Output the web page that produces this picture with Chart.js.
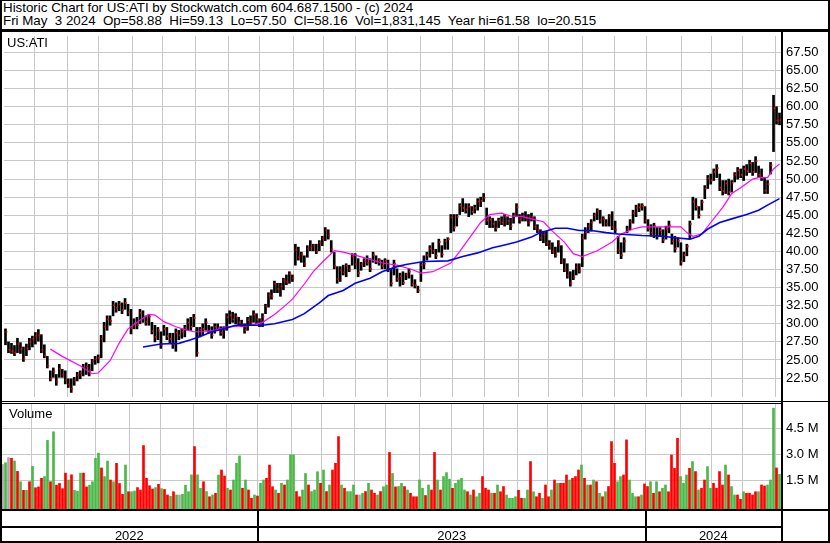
<!DOCTYPE html>
<html>
<head>
<meta charset="utf-8">
<script src="https://cdn.jsdelivr.net/npm/chart.js@4.4.1/dist/chart.umd.min.js"></script>
<style>
html,body{margin:0;padding:0;background:#fff;}
#wrap{position:relative;width:830px;height:543px;overflow:hidden;background:#fff;font-family:"Liberation Sans",Arial,sans-serif;color:#000;}
.hdr{position:absolute;left:3px;font-size:13.33px;line-height:13px;white-space:pre;}
.lbl{position:absolute;font-size:13px;line-height:13px;white-space:pre;}
.ln{position:absolute;background:#000;}
canvas{position:absolute;left:0;}
</style>
</head>
<body>
<div id="wrap">
  <div class="hdr" style="top:1px">Historic Chart for US:ATI by Stockwatch.com 604.687.1500 - (c) 2024</div>
  <div class="hdr" style="top:14px">Fri May  3 2024  Op=58.88  Hi=59.13  Lo=57.50  Cl=58.16  Vol=1,831,145  Year hi=61.58  lo=20.515</div>
  <canvas id="cp" width="830" height="369" style="top:32px"></canvas>
  <canvas id="cv" width="830" height="105" style="top:404px"></canvas>
  <div class="lbl" style="left:7px;top:36px">US:ATI</div>
  <div class="lbl" style="left:9px;top:407px">Volume</div>
  <!-- frame lines -->
  <div class="ln" style="left:0;top:0;width:830px;height:1px"></div>
  <div class="ln" style="left:0;top:0;width:2px;height:543px"></div>
  <div class="ln" style="left:828px;top:0;width:2px;height:543px"></div>
  <div class="ln" style="left:0;top:29px;width:830px;height:3px"></div>
  <div class="ln" style="left:781px;top:32px;width:2px;height:510px"></div>
  <div class="ln" style="left:0;top:401px;width:830px;height:1px"></div>
  <div class="ln" style="left:0;top:403px;width:783px;height:1px"></div>
  <div class="ln" style="left:0;top:509px;width:830px;height:2px"></div>
  <div class="ln" style="left:0;top:526px;width:783px;height:2px"></div>
  <div class="ln" style="left:0;top:541px;width:830px;height:2px"></div>
  <div id="years"></div>
</div>
<script>
// ---- data (one entry per bar) ----
const HIGH = [
29.3,27.5,27.3,27.0,28.0,27.4,26.8,27.2,28.0,28.3,
28.8,29.2,28.5,27.1,25.5,23.5,23.9,23.0,24.4,23.7,
23.5,22.4,22.4,22.6,23.3,23.5,24.4,24.6,24.4,25.1,
25.5,25.7,28.4,30.2,31.1,31.1,33.1,32.9,33.1,32.9,
33.5,32.7,32.0,30.7,30.9,32.0,31.8,31.1,31.3,30.2,
29.8,29.5,28.9,29.8,29.5,28.7,28.7,29.3,29.1,29.3,
29.8,30.7,30.9,31.3,29.5,29.5,30.0,30.7,29.8,29.6,
30.0,30.0,29.6,29.6,31.4,31.8,31.6,31.4,30.9,30.5,
30.0,30.9,31.1,31.8,31.4,30.7,31.4,32.7,34.3,34.7,
35.9,35.6,35.6,36.3,36.75,37.2,36.75,41.0,40.6,39.9,
39.4,40.8,41.5,41.0,41.0,41.5,42.1,43.3,43.0,41.5,
39.9,37.9,37.9,38.1,38.3,38.1,39.7,39.7,39.0,38.5,
39.0,39.4,39.0,39.9,39.4,39.0,38.8,39.0,38.8,37.6,
38.8,37.6,37.0,37.2,37.0,37.6,36.75,36.1,35.2,38.5,
39.4,39.9,40.8,41.2,40.3,41.7,40.8,41.7,41.9,45.1,
45.1,45.1,46.6,47.3,46.6,46.6,46.2,46.4,47.3,47.5,
48.0,46.0,44.8,44.6,44.2,44.6,44.8,45.1,44.8,44.6,
45.3,46.6,45.1,45.3,45.5,45.1,45.3,44.8,43.7,43.0,
42.8,42.8,41.5,41.2,40.6,41.5,40.8,39.0,38.3,37.2,
37.4,38.3,38.3,42.4,43.3,43.9,44.4,45.3,45.9,45.7,
44.8,44.4,45.1,45.5,44.2,42.1,41.2,41.9,43.5,44.4,
45.7,46.4,46.6,46.6,46.2,44.4,43.7,43.9,43.3,43.3,
43.0,43.5,44.2,42.4,42.1,41.9,41.2,39.9,41.0,44.2,
47.5,47.3,46.2,47.1,49.1,50.5,50.7,51.4,52.0,50.7,
49.8,49.8,50.0,49.8,50.9,51.6,51.4,51.8,52.0,52.6,
52.3,53.1,51.8,51.4,50.2,49.8,52.3,61.58,60.0,59.13];

const LOW = [
27.1,26.0,25.9,25.6,26.0,25.9,24.8,25.6,26.4,26.8,
27.2,27.6,26.0,25.3,23.9,22.1,22.6,21.5,22.6,22.6,
21.7,21.2,20.515,21.5,22.1,22.4,22.8,23.0,22.8,23.5,
24.4,24.6,25.3,27.5,29.1,29.8,31.1,31.6,31.8,31.4,
32.0,31.1,28.6,29.3,29.3,30.0,30.2,29.8,29.8,28.6,
27.5,27.8,26.6,28.4,27.8,27.3,26.6,26.2,27.8,28.0,
28.2,29.1,29.1,29.6,25.5,28.2,28.4,29.1,28.7,28.0,
28.7,29.1,28.4,28.0,29.1,30.0,30.2,30.0,29.8,29.6,
28.7,29.1,29.8,30.2,30.0,29.6,29.6,31.4,32.3,33.4,
34.3,34.3,33.8,34.7,35.4,35.6,35.85,38.1,38.8,38.5,
37.9,39.2,40.1,40.1,39.7,40.1,40.8,41.5,41.7,39.9,
37.6,35.6,35.85,36.75,36.5,37.2,38.1,37.6,36.5,37.4,
37.9,38.1,37.2,38.5,38.3,38.1,37.6,37.6,37.2,35.2,
36.75,35.85,35.2,35.4,36.1,36.3,35.2,34.95,34.3,35.85,
37.6,38.8,39.2,39.7,39.0,39.9,39.2,40.3,40.3,42.6,
42.8,43.5,45.1,45.5,45.3,44.8,45.1,45.3,45.7,46.2,
46.9,43.7,43.3,43.3,42.8,43.3,43.7,43.5,43.7,43.0,
43.9,44.8,43.9,44.2,44.2,43.5,44.2,43.0,42.6,41.5,
41.2,40.8,40.3,39.7,39.2,39.9,38.3,37.2,36.3,35.2,
36.1,36.75,37.0,37.9,41.7,42.6,42.8,44.2,44.4,43.9,
43.5,43.5,43.5,43.0,42.6,39.7,39.0,39.9,42.6,43.0,
43.9,44.8,45.5,45.7,43.9,42.8,42.1,41.9,41.7,42.1,
41.2,41.7,42.6,41.0,39.9,40.6,38.1,38.6,39.4,41.7,
44.4,45.7,44.6,45.7,47.3,48.7,49.3,49.8,50.2,48.4,
47.8,48.0,47.8,48.2,49.6,50.0,50.2,49.8,50.5,50.9,
50.5,50.9,50.2,49.8,48.0,48.0,50.7,53.8,57.6,57.50];

const CLOSE = [
28.9,26.4,26.2,26.0,27.2,26.5,25.2,26.6,27.5,27.9,
28.3,28.4,26.4,25.6,24.2,22.4,23.4,22.0,23.8,23.0,
22.2,21.6,21.0,22.2,22.9,23.2,23.9,24.1,23.6,24.8,
25.1,25.3,27.9,29.6,30.6,30.4,32.6,32.2,32.7,31.9,
32.9,31.6,29.4,30.1,29.8,31.5,30.8,30.3,31.0,29.0,
28.2,29.1,27.1,29.3,28.3,27.9,27.2,28.8,28.4,28.9,
29.5,30.2,29.6,30.8,26.0,29.2,29.3,30.2,29.0,28.4,
29.6,29.4,28.8,29.2,30.9,31.2,30.6,31.0,30.2,29.9,
29.1,30.5,30.1,31.3,30.6,29.9,31.0,32.4,33.9,33.8,
35.5,34.8,35.2,36.0,35.8,36.9,36.3,40.2,39.2,39.6,
38.3,40.4,40.6,40.8,40.0,41.2,41.8,42.9,42.2,40.3,
38.0,36.2,37.4,37.1,38.0,37.5,39.3,38.2,37.0,38.2,
38.7,38.4,37.6,39.5,38.6,38.8,38.0,38.7,37.5,35.6,
38.3,36.2,36.6,35.7,36.8,37.2,35.5,35.3,34.6,38.1,
38.3,39.5,40.4,40.1,39.4,41.3,39.6,41.4,41.7,44.7,
43.3,44.8,46.3,46.0,45.8,46.2,45.5,46.0,46.9,47.0,
47.4,44.3,44.4,43.8,43.2,44.3,44.0,44.8,44.2,43.5,
45.0,46.1,44.4,44.9,44.6,44.0,44.8,43.4,42.9,41.9,
42.3,41.2,40.7,40.0,39.5,41.1,38.6,37.5,36.7,35.6,
36.4,37.8,37.3,41.9,42.6,43.5,44.0,45.0,45.6,44.3,
44.5,43.8,44.8,43.4,43.0,40.1,39.5,41.4,43.1,44.1,
45.3,46.0,46.1,46.3,44.3,43.2,42.6,43.5,42.1,42.9,
41.6,43.1,43.6,41.4,40.4,41.5,38.6,39.5,40.7,43.8,
46.9,46.2,45.0,46.8,48.7,50.1,49.8,51.0,51.5,48.8,
48.3,49.4,48.2,49.5,50.6,51.2,50.6,51.4,51.1,52.2,
51.0,52.5,50.6,50.2,48.4,49.3,51.9,59.8,58.1,58.16];

// volume in millions of shares
const VOLUME = [
2.4,2.5,2.8,2.76,2.6,2.0,1.4,0.9,0.9,1.4,
2.3,1.05,1.1,1.6,1.7,3.8,1.4,4.3,1.2,1.3,
1.0,1.9,1.5,1.8,0.9,0.85,1.9,1.9,1.1,1.2,
1.4,2.76,3.06,2.2,1.7,2.6,1.5,1.4,2.47,1.3,
0.67,2.37,0.82,0.82,0.86,1.06,0.92,3.5,1.6,1.17,
0.98,1.06,1.25,1.0,0.95,0.63,0.55,0.82,0.63,0.63,
0.67,1.2,0.82,1.8,3.44,1.8,1.02,1.4,0.83,0.53,
0.63,0.73,1.79,2.08,1.73,1.02,0.92,1.5,2.47,2.9,
1.02,1.5,0.92,0.44,0.63,0.57,1.31,1.5,1.6,2.37,
1.11,0.92,0.73,1.31,1.21,1.5,2.96,2.96,0.83,0.53,
0.92,1.88,1.21,0.83,0.92,1.98,1.31,2.08,0.83,1.21,
2.08,2.47,4.02,1.21,1.02,0.83,0.83,1.21,0.63,0.63,
0.73,0.83,1.31,0.92,0.73,0.63,0.83,1.11,1.21,3.1,
1.88,1.1,1.12,1.31,1.12,0.92,0.73,0.53,0.53,1.5,
1.02,0.6,1.21,0.92,3.1,1.5,0.92,1.7,1.93,1.54,
1.02,1.31,1.5,1.6,0.92,0.82,0.63,0.92,0.53,0.73,
1.7,1.02,0.92,0.73,0.73,1.21,0.82,1.12,0.63,0.44,
0.44,0.53,0.9,0.44,0.44,0.92,2.57,0.82,0.53,0.73,
0.44,1.21,0.53,0.92,1.5,1.31,1.31,1.31,1.79,1.5,
1.6,1.7,2.08,2.37,1.6,1.21,1.21,1.5,1.4,0.73,
0.53,0.82,1.12,3.73,2.47,1.4,1.7,1.79,3.83,1.5,
0.73,0.53,0.53,0.63,1.27,1.12,1.4,0.73,1.4,0.82,
1.02,1.21,0.82,2.95,2.18,3.92,1.7,1.31,1.79,2.18,
2.57,1.99,0.92,1.02,1.5,2.28,1.02,1.31,1.02,1.99,
1.21,2.37,1.79,1.12,0.63,0.63,0.38,0.82,0.73,0.73,
0.63,0.82,0.82,1.21,1.15,1.21,1.5,5.67,2.2,1.83];

// g = up day, r = down day, n = unchanged
const VOL_DIR = (
"ngnrgrgrgr"+"grrrggrgrr"+"rrgrgggrrg"+"gggrggrgrr"+"rgrggrrrrr"+
"rgrgrrgrgn"+"ggggrggrgr"+"grgrrgrggg"+"rgrrgrggrr"+"rgrgrgggrr"+
"ggrgggrgrg"+"rrrgrgggrn"+"grgrrgrggr"+"grggrgrrrg"+"grgrrgrggg"+
"rggggrgrgg"+"rrrgrgrrgg"+"ggrrggrgrr"+"grrgrgrrrg"+"rrrgrgrgrg"+
"rgrrrggrrg"+"ggrgrrgrgr"+"ggrrrrgggr"+"grgrrggrrr"+"rgrggrrgrr"+
"rrgrrgggrg").split('');

// moving averages: [bar index, value]
const MA_SHORT = [[15,26.5],[19,25.5],[25,24.2],[29,23.1],[31,23.2],[35,24.9],[38,27.3],[41,29.3],[45,30.5],[48,31.3],[50,31.2],[53,30.3],[57,29.6],[60,29.2],[63,28.9],[67,28.9],[71,29.2],[75,29.6],[81,29.7],[86,30.2],[90,31.3],[93,32.3],[96,33.4],[100,35.5],[103,37.2],[106,38.5],[110,40.1],[113,39.9],[117,39.5],[122,38.9],[126,38.4],[131,38.1],[136,37.5],[139,37.0],[143,37.2],[149,38.4],[152,40.0],[156,42.3],[159,44.0],[162,45.1],[166,45.3],[169,44.9],[173,44.8],[177,44.4],[180,44.1],[183,42.8],[187,41.3],[190,39.7],[193,39.3],[198,40.1],[203,41.3],[206,42.4],[210,43.1],[213,43.4],[226,43.4],[228,42.6],[230,42.1],[233,42.4],[236,44.0],[240,46.1],[243,48.0],[246,48.8],[250,50.0],[252,50.2],[255,50.2],[257,51.4],[259,52.1]];
const MA_LONG = [[46,26.8],[52,27.2],[58,27.3],[62,27.8],[65,28.2],[69,28.9],[73,29.3],[77,29.8],[86,29.8],[90,30.0],[96,30.6],[100,31.4],[105,32.9],[108,33.9],[113,34.6],[117,35.6],[122,36.3],[126,37.2],[131,37.9],[134,38.2],[140,38.6],[148,38.7],[153,39.3],[158,39.8],[163,40.5],[167,40.9],[171,41.3],[176,42.0],[179,42.6],[184,43.2],[188,43.2],[192,42.9],[196,42.9],[201,42.6],[205,42.4],[213,42.2],[220,42.1],[224,41.9],[229,41.7],[232,42.1],[235,43.1],[239,44.0],[243,44.5],[248,45.1],[252,45.7],[255,46.4],[259,47.3]];

// month boundaries (bar-index units) and year starts
const MONTH_TICKS = [9.73,20.6,31.07,42.4,52.6,63.73,74.73,85.07,96.4,106.4,117.27,127.83,138.93,149.73,160.27,171.6,181.73,193.07,203.93,214.4,226.07,236.4,246.73,257.5];
const YEAR_LABELS = ["2022","2023","2024"];
const YEAR_STARTS = [85.07,214.4];
const PRICE_TICKS = [67.5,65,62.5,60,57.5,55,52.5,50,47.5,45,42.5,40,37.5,35,32.5,30,27.5,25,22.5];
const VOLUME_TICKS = [4.5,3.0,1.5];

// ---- chart setup ----
const N = HIGH.length;
const X_MIN = -0.5, X_MAX = N - 0.5;
const PRICE_MIN = 19.886, PRICE_MAX = 69.771;
const VOL_MIN = -0.183, VOL_MAX = 5.911;
const FONT = {family:'"Liberation Sans", Arial, sans-serif', size:13};
const GRID = '#c8c8c8';
const COLORS = {g:'#4cb848', r:'#ff0000', n:'#a8a8a8'};

function xScale() {
  return {
    type:'linear', min:X_MIN, max:X_MAX, offset:false,
    afterBuildTicks: s => { s.ticks = MONTH_TICKS.map(v => ({value:v})); },
    ticks:{display:false},
    grid:{color:GRID, lineWidth:1, drawTicks:false, offset:false},
    border:{display:false},
    afterFit: s => { s.height = 0; s.paddingLeft = 0; s.paddingRight = 0; }
  };
}
function yScale(min, max, ticks, fmt) {
  return {
    position:'right', min:min, max:max,
    afterBuildTicks: s => { s.ticks = ticks.map(v => ({value:v})); },
    ticks:{padding:5, color:'#000', font:FONT, callback:fmt},
    grid:{color:GRID, lineWidth:1, drawTicks:false},
    border:{display:false},
    afterFit: s => { s.width = 49; s.paddingTop = 0; s.paddingBottom = 0; }
  };
}
const common = {
  responsive:false, animation:false, devicePixelRatio:1,
  layout:{padding:{left:1,right:0,top:0,bottom:0}},
  plugins:{legend:{display:false}, tooltip:{enabled:false}}
};

new Chart(document.getElementById('cp'), {
  type:'bar',
  data:{datasets:[
    {type:'line', data:MA_LONG.map(([x,y]) => ({x,y})), borderColor:'#0000ff', borderWidth:1.6, pointRadius:0, tension:0, order:0},
    {type:'line', data:MA_SHORT.map(([x,y]) => ({x,y})), borderColor:'#ff00ff', borderWidth:1.2, pointRadius:0, tension:0, order:1},
    {type:'scatter', data:CLOSE.map((c,i) => ({x:i+0.33, y:c})), showLine:false, pointStyle:'rect', pointRadius:1.2, backgroundColor:'#ff0000', borderWidth:0, order:2},
    {type:'bar', data:HIGH.map((h,i) => ({x:i, y:[LOW[i], h]})), backgroundColor:'#000', barThickness:2, order:3}
  ]},
  options:Object.assign({}, common, {
    scales:{
      x:xScale(),
      y:yScale(PRICE_MIN, PRICE_MAX, PRICE_TICKS, v => Number(v).toFixed(2))
    }
  })
});

const volChart = new Chart(document.getElementById('cv'), {
  type:'bar',
  data:{datasets:[
    {data:VOLUME.map((v,i) => ({x:i, y:v})), backgroundColor:VOL_DIR.map(d => COLORS[d]), base:VOL_MIN, barThickness:2}
  ]},
  options:Object.assign({}, common, {
    scales:{
      x:xScale(),
      y:yScale(VOL_MIN, VOL_MAX, VOLUME_TICKS, v => Number(v).toFixed(1) + ' M')
    }
  })
});

// date band: year separators and labels positioned with the chart's x scale
(function(){
  const xs = volChart.scales.x;
  const host = document.getElementById('years');
  const bounds = [X_MIN].concat(YEAR_STARTS, [X_MAX]);
  YEAR_STARTS.forEach(v => {
    const p = Math.round(xs.getPixelForValue(v));
    const d = document.createElement('div');
    d.className = 'ln';
    d.style.cssText = 'left:' + (p - 1) + 'px;top:510px;width:2px;height:32px';
    host.appendChild(d);
  });
  YEAR_LABELS.forEach((t, k) => {
    const c = (xs.getPixelForValue(bounds[k]) + xs.getPixelForValue(bounds[k+1])) / 2;
    const d = document.createElement('div');
    d.className = 'lbl';
    d.textContent = t;
    d.style.left = c + 'px';
    d.style.top = '529px';
    d.style.transform = 'translateX(-50%)';
    host.appendChild(d);
  });
})();
</script>
</body>
</html>
